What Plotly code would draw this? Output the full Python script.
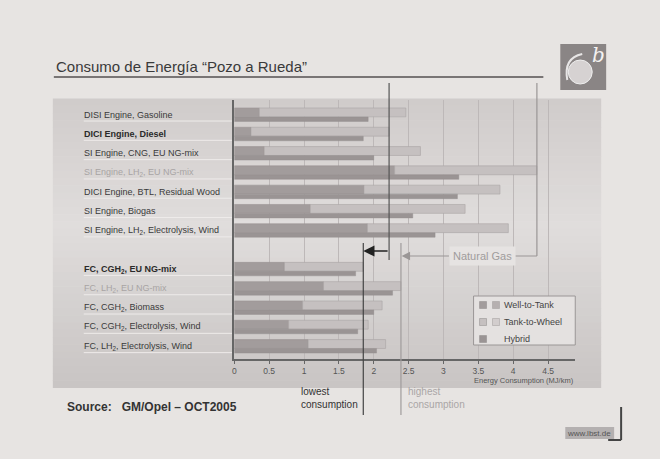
import plotly.graph_objects as go

W, H = 660, 459

categories = [
    "DISI Engine, Gasoline",
    "<b>DICI Engine, Diesel</b>",
    "SI Engine, CNG, EU NG-mix",
    "SI Engine, LH<sub>2</sub>, EU NG-mix",
    "DICI Engine, BTL, Residual Wood",
    "SI Engine, Biogas",
    "SI Engine, LH<sub>2</sub>, Electrolysis, Wind",
    "<b>FC, CGH<sub>2</sub>, EU NG-mix</b>",
    "FC, LH<sub>2</sub>, EU NG-mix",
    "FC, CGH<sub>2</sub>, Biomass",
    "FC, CGH<sub>2</sub>, Electrolysis, Wind",
    "FC, LH<sub>2</sub>, Electrolysis, Wind",
]
groups = ["ICE"] * 7 + ["FC"] * 5
label_colors = ["#3a3a3a", "#2a2a2a", "#3a3a3a", "#a8a4a4", "#3a3a3a", "#3a3a3a", "#3a3a3a",
                "#2a2a2a", "#a8a4a4", "#3a3a3a", "#3a3a3a", "#3a3a3a"]

well_to_tank = [0.36, 0.24, 0.43, 2.30, 1.86, 1.09, 1.91, 0.72, 1.28, 0.98, 0.78, 1.06]
tank_to_wheel = [2.10, 1.98, 2.24, 2.04, 1.95, 2.22, 2.02, 1.13, 1.11, 1.14, 1.14, 1.11]
hybrid = [1.92, 1.85, 2.00, 3.22, 3.20, 2.56, 2.88, 1.74, 2.27, 2.00, 1.77, 2.04]

tick_vals = [0, 0.5, 1, 1.5, 2, 2.5, 3, 3.5, 4, 4.5]
tick_text = ["0", "0.5", "1", "1.5", "2", "2.5", "3", "3.5", "4", "4.5"]

series_names = ["Well-to-Tank", "Tank-to-Wheel", "Hybrid"]
series_colors = ["#a29c9c", "#c5c0c0", "#9a9494"]
legend_alt_colors = ["#b6b0b0", "#d2cdcd", None]

totals = [a + b for a, b in zip(well_to_tank, tank_to_wheel)]
slots = [i + (1 if g == "FC" else 0) for i, g in enumerate(groups)]
diesel_total = totals[1]
lowest_total = min(totals)
highest_fc = max(t for t, g in zip(totals, groups) if g == "FC")
highest_ng = totals[3]

def py(pix):
    return 1 - pix / H

def px(pix):
    return pix / W

fig = go.Figure()
fig.add_trace(go.Bar(
    y=[s - 0.117 for s in slots], x=well_to_tank, orientation="h", width=0.46,
    name=series_names[0], marker=dict(color=series_colors[0], line=dict(color="#9a9494", width=0.6)),
))
fig.add_trace(go.Bar(
    y=[s - 0.117 for s in slots], x=tank_to_wheel, base=well_to_tank, orientation="h", width=0.46,
    name=series_names[1], marker=dict(color=series_colors[1], line=dict(color="#aaa5a5", width=0.6)),
))
fig.add_trace(go.Bar(
    y=[s + 0.235 for s in slots], x=hybrid, orientation="h", width=0.235,
    name=series_names[2], marker=dict(color=series_colors[2], line=dict(color="#938d8d", width=0.4)),
))

shapes = []
# panel gradient
top, bot, mid = 99, 388, 225
def lerp(c1, c2, t):
    return "#%02x%02x%02x" % tuple(int(round(c1[i] + (c2[i] - c1[i]) * t)) for i in range(3))
c_top, c_mid, c_bot = (0xd0, 0xcc, 0xcb), (0xe0, 0xdd, 0xdc), (0xc8, 0xc4, 0xc3)
n = 40
for k in range(n):
    y0 = top + (bot - top) * k / n
    y1 = top + (bot - top) * (k + 1) / n
    yc = (y0 + y1) / 2
    if yc < mid:
        col = lerp(c_top, c_mid, (yc - top) / (mid - top))
    else:
        col = lerp(c_mid, c_bot, (yc - mid) / (bot - mid))
    shapes.append(dict(type="rect", xref="paper", yref="paper", x0=px(51), x1=px(601),
                       y0=py(y1), y1=py(y0) + 0.001, fillcolor=col, line=dict(width=0), layer="below"))

# label separators
for s in slots:
    shapes.append(dict(type="line", xref="paper", yref="y", x0=px(82), x1=px(233),
                       y0=s + 0.33, y1=s + 0.33, line=dict(color="#eeebea", width=1), layer="below"))

# title underline
shapes.append(dict(type="line", xref="paper", yref="paper", x0=px(52), x1=px(543), y0=py(77), y1=py(77),
                   line=dict(color="#555050", width=1.5)))
# reference lines
shapes.append(dict(type="line", xref="x", yref="paper", x0=diesel_total, x1=diesel_total, y0=py(83), y1=py(260),
                   line=dict(color="#555", width=1.2)))
shapes.append(dict(type="line", xref="x", yref="paper", x0=lowest_total, x1=lowest_total, y0=py(243), y1=py(415),
                   line=dict(color="#444", width=1.2)))
shapes.append(dict(type="line", xref="x", yref="paper", x0=highest_fc, x1=highest_fc, y0=py(243), y1=py(415),
                   line=dict(color="#a09c9c", width=1.2)))
shapes.append(dict(type="line", xref="x", yref="paper", x0=highest_ng, x1=highest_ng, y0=py(83), y1=py(256),
                   line=dict(color="#9a9696", width=1.2)))
shapes.append(dict(type="line", xref="x", yref="paper", x0=4.03, x1=highest_ng, y0=py(256), y1=py(256),
                   line=dict(color="#9a9696", width=1.2)))

# custom legend box
shapes.append(dict(type="rect", xref="paper", yref="paper", x0=px(473), x1=px(575), y0=py(345), y1=py(296),
                   fillcolor="#e4e1e0", line=dict(color="#9a9696", width=1)))
leg_y = [305, 322, 339]
for i in range(3):
    yy = leg_y[i]
    shapes.append(dict(type="rect", xref="paper", yref="paper", x0=px(479), x1=px(486), y0=py(yy + 3.5),
                       y1=py(yy - 3.5), fillcolor=series_colors[i], line=dict(color="#8f8a8a", width=0.5)))
    if legend_alt_colors[i]:
        shapes.append(dict(type="rect", xref="paper", yref="paper", x0=px(492), x1=px(499), y0=py(yy + 3.5),
                           y1=py(yy - 3.5), fillcolor=legend_alt_colors[i], line=dict(color="#9f9a9a", width=0.5)))

# logo
shapes.append(dict(type="rect", xref="paper", yref="paper", x0=px(560), x1=px(606), y0=py(90), y1=py(44),
                   fillcolor="#8a8585", line=dict(width=0)))
shapes.append(dict(type="circle", xref="paper", yref="paper", x0=px(568), x1=px(592), y0=py(84), y1=py(60),
                   fillcolor="#d6d2d2", line=dict(color="#eeeeee", width=1)))
shapes.append(dict(type="path", xref="paper", yref="paper",
                   path=f"M {px(567)},{py(80)} Q {px(563)},{py(58)} {px(582)},{py(54)}",
                   line=dict(color="#e8e6e6", width=2)))

# www box
shapes.append(dict(type="rect", xref="paper", yref="paper", x0=px(565), x1=px(614), y0=py(439), y1=py(427),
                   fillcolor="#b4b0b0", line=dict(width=0)))
shapes.append(dict(type="line", xref="paper", yref="paper", x0=px(621), x1=px(621), y0=py(407), y1=py(440),
                   line=dict(color="#444", width=2)))
shapes.append(dict(type="line", xref="paper", yref="paper", x0=px(608), x1=px(621), y0=py(440), y1=py(440),
                   line=dict(color="#444", width=2)))

annotations = []
for s, lab, col in zip(slots, categories, label_colors):
    annotations.append(dict(x=px(80), xref="paper", y=s, yref="y", text=lab, showarrow=False,
                            xanchor="left", yanchor="middle", font=dict(size=9, color=col)))

for i in range(3):
    annotations.append(dict(x=px(502), y=py(leg_y[i]), xref="paper", yref="paper", text=series_names[i],
                            showarrow=False, xanchor="left", yanchor="middle", font=dict(size=9, color="#444")))

annotations += [
    dict(x=px(52), y=py(67), xref="paper", yref="paper", text="Consumo de Energía “Pozo a Rueda”",
         showarrow=False, xanchor="left", yanchor="middle", font=dict(size=15, color="#3a3a3a")),
    dict(x=px(598), y=py(55), xref="paper", yref="paper", text="<i>b</i>",
         showarrow=False, xanchor="center", yanchor="middle",
         font=dict(size=20, color="#f4f2f2", family="DejaVu Serif")),
    dict(x=px(576), y=py(380), xref="paper", yref="paper", text="Energy Consumption (MJ/km)",
         showarrow=False, xanchor="right", yanchor="middle", font=dict(size=7.5, color="#555")),
    dict(x=px(63), y=py(407), xref="paper", yref="paper", text="<b>Source:   GM/Opel – OCT2005</b>",
         showarrow=False, xanchor="left", yanchor="middle", font=dict(size=12, color="#333")),
    dict(x=px(359), y=py(398), xref="paper", yref="paper", text="lowest<br>consumption",
         showarrow=False, xanchor="right", yanchor="middle", align="left", font=dict(size=10, color="#333")),
    dict(x=px(405), y=py(398), xref="paper", yref="paper", text="highest<br>consumption",
         showarrow=False, xanchor="left", yanchor="middle", align="left", font=dict(size=10, color="#aaa6a6")),
    dict(x=px(589), y=py(433), xref="paper", yref="paper", text="www.lbst.de",
         showarrow=False, xanchor="center", yanchor="middle", font=dict(size=8, color="#555")),
    dict(x=3.56, xref="x", y=py(256), yref="paper", text="Natural Gas", showarrow=False,
         bgcolor="#e6e3e2", borderpad=3, font=dict(size=11, color="#a09c9c")),
    dict(x=lowest_total, xref="x", y=py(251), yref="paper", ax=diesel_total, axref="x", ay=0, ayref="pixel",
         text="", showarrow=True, arrowhead=2, arrowsize=1.4, arrowwidth=1.6, arrowcolor="#222"),
    dict(x=highest_fc + 0.01, xref="x", y=py(256), yref="paper", ax=3.1, axref="x", ay=0, ayref="pixel",
         text="", showarrow=True, arrowhead=2, arrowsize=1.4, arrowwidth=1.2, arrowcolor="#9a9696"),
]

fig.update_layout(
    width=W, height=H,
    margin=dict(l=0, r=0, t=0, b=0),
    paper_bgcolor="#e7e4e2",
    plot_bgcolor="rgba(0,0,0,0)",
    barmode="overlay",
    font=dict(family="Liberation Sans, Arial, sans-serif", color="#333"),
    shapes=shapes,
    annotations=annotations,
    showlegend=False,
    xaxis=dict(domain=[px(233), px(575)], range=[0, 4.89], tickvals=tick_vals, ticktext=tick_text,
               showgrid=True, gridcolor="#bdb8b8", gridwidth=1, zeroline=False,
               showline=True, linecolor="#666", linewidth=1.5, ticks="outside", ticklen=3,
               tickcolor="#666", tickfont=dict(size=8.5, color="#555")),
    yaxis=dict(domain=[py(359), py(100)], range=[12.66, -0.76], showticklabels=False,
               showgrid=False, zeroline=False, showline=True, linecolor="#666", linewidth=1.5),
)

fig.write_html("out.html")
